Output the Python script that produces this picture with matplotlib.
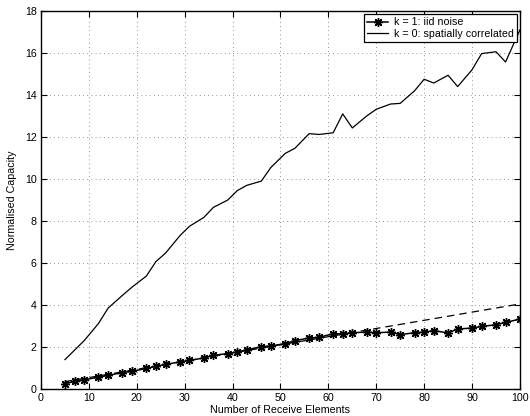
import matplotlib
matplotlib.use("Agg")
import matplotlib.pyplot as plt

plt.rcParams["font.family"] = ["Liberation Sans", "DejaVu Sans"]

# receive elements (x positions of the samples)
n_elements = [5, 7, 9, 12, 14, 17, 19, 22, 24, 26, 29, 31, 34, 36, 39, 41, 43, 46, 48, 51,
              53, 56, 58, 61, 63, 65, 68, 70, 73, 75, 78, 80, 82, 85, 87, 90, 92, 95, 97, 100]

# k = 1: iid noise
cap_iid = [0.25, 0.36, 0.44, 0.56, 0.65, 0.78, 0.84, 0.98, 1.08, 1.17, 1.29, 1.36, 1.48, 1.60,
           1.69, 1.76, 1.87, 2.01, 2.05, 2.16, 2.30, 2.43, 2.46, 2.63, 2.63, 2.68, 2.71, 2.68,
           2.71, 2.59, 2.68, 2.71, 2.78, 2.67, 2.86, 2.90, 2.98, 3.06, 3.17, 3.33]

# k = 0: spatially correlated
cap_corr = [1.40, 1.85, 2.30, 3.12, 3.85, 4.46, 4.85, 5.38, 6.07, 6.47, 7.30, 7.75, 8.17, 8.65,
            9.00, 9.45, 9.70, 9.90, 10.55, 11.22, 11.46, 12.16, 12.12, 12.20, 13.10, 12.43,
            13.00, 13.32, 13.57, 13.60, 14.20, 14.75, 14.57, 14.94, 14.40, 15.20, 15.97, 16.06,
            15.57, 17.10]

# dashed reference line
ref_x = [5, 100]
ref_y = [0.35, 4.05]

fig = plt.figure(figsize=(5.3, 4.16), dpi=100)
ax = fig.add_axes([0.0774, 0.0649, 0.9036, 0.9087])

ax.plot(ref_x, ref_y, "k--", lw=0.9, dashes=(6, 4))
# matlab style asterisk marker
ax.plot(n_elements, cap_iid, "k-", marker=(8, 2, 0), lw=1.1, ms=6.5, mew=1.0,
        label="k = 1: iid noise")
ax.plot(n_elements, cap_corr, "k-", lw=0.9, label="k = 0: spatially correlated")

ax.set_xlim(0, 100)
ax.set_ylim(0, 18)
ax.set_xticks(range(0, 101, 10))
ax.set_yticks(range(0, 19, 2))
ax.grid(True, color="0.45", linestyle=(0, (1, 4)), lw=0.6)

ax.tick_params(direction="in", top=True, right=True, labelsize=7.7, length=4, width=0.8, pad=3)
for s in ax.spines.values():
    s.set_linewidth(1.0)

ax.set_xlabel("Number of Receive Elements", fontsize=7.7, labelpad=1)
ax.set_ylabel("Normalised Capacity", fontsize=7.7, labelpad=6)

leg = ax.legend(loc="upper right", fontsize=7.7, frameon=True, fancybox=False,
                edgecolor="black", framealpha=1, handlelength=2.0, borderpad=0.3,
                labelspacing=0.15, handletextpad=0.5, borderaxespad=0.3)
leg.get_frame().set_linewidth(0.9)

fig.savefig("out.png", dpi=100)
